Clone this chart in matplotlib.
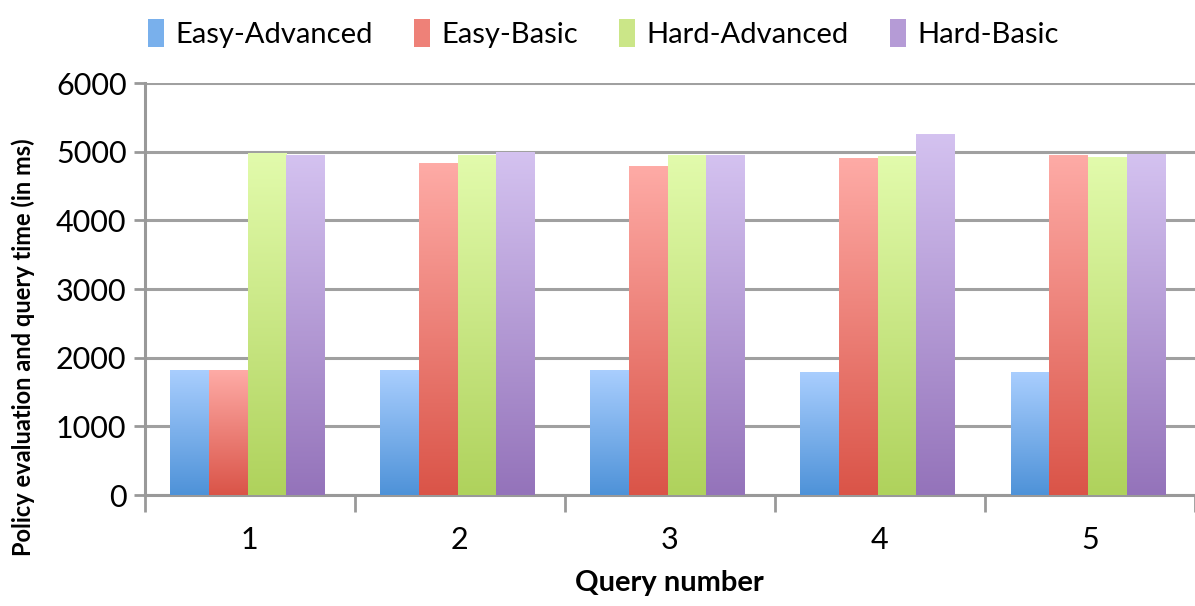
import numpy as np
import matplotlib.pyplot as plt
from matplotlib.colors import LinearSegmentedColormap
from matplotlib.patches import Patch

plt.rcParams['font.family'] = ['Lato', 'DejaVu Sans']

queries = ['1', '2', '3', '4', '5']
series = ['Easy-Advanced', 'Easy-Basic', 'Hard-Advanced', 'Hard-Basic']
easy_advanced = [1810, 1810, 1820, 1790, 1790]
easy_basic = [1810, 4820, 4780, 4900, 4950]
hard_advanced = [4970, 4950, 4950, 4930, 4920]
hard_basic = [4950, 4980, 4940, 5250, 4960]
values = [easy_advanced, easy_basic, hard_advanced, hard_basic]

# (top, bottom) colours of the gradient
grads = [('#a9cefe', '#4e92d8'),
         ('#feaba6', '#da5448'),
         ('#e2fbac', '#afd25c'),
         ('#d4c2f0', '#9473ba')]

fig, ax = plt.subplots(figsize=(11.95, 6.06), dpi=100)
fig.subplots_adjust(left=0.121, right=1.0, top=0.863, bottom=0.183)

x = np.arange(len(queries))
w = 0.184
grad = np.linspace(1, 0, 256).reshape(-1, 1)
for i, (vals, (top, bot)) in enumerate(zip(values, grads)):
    cmap = LinearSegmentedColormap.from_list(series[i], [bot, top])
    bars = ax.bar(x + (i - 1.5) * w - 0.01, vals, w, color='none', zorder=3)
    for b in bars:
        x0, y0 = b.get_x(), b.get_y()
        ax.imshow(grad, cmap=cmap, aspect='auto', zorder=3,
                  extent=(x0, x0 + b.get_width(), y0, y0 + b.get_height()))

ax.set_xlim(-0.5, len(queries) - 0.5)
ax.set_ylim(0, 6000)
ax.set_yticks(range(0, 6001, 1000))
ax.yaxis.grid(True, color='#a0a0a0', linewidth=2.2, zorder=0)

ax.set_xticks(np.arange(-0.5, len(queries), 1.0))
ax.set_xticklabels([])
ax.set_xticks(x, minor=True)
ax.set_xticklabels(queries, minor=True)
ax.tick_params(axis='x', which='major', length=12, width=2, color='#999999',
               direction='out')
ax.tick_params(axis='x', which='minor', length=0, pad=22, labelsize=22)
ax.tick_params(axis='y', length=8, width=2, color='#999999', labelsize=22, pad=5)

for s in ['top', 'right']:
    ax.spines[s].set_visible(False)
for s in ['left', 'bottom']:
    ax.spines[s].set_color('#999999')
    ax.spines[s].set_linewidth(2.2)

ax.set_xlabel('Query number', fontsize=21, fontweight='bold', labelpad=12)
ax.set_ylabel('Policy evaluation and query time (in ms)', fontsize=17,
              fontweight='bold')
ax.yaxis.set_label_coords(-0.104, 0.36)

handles = [Patch(facecolor=c, label=s)
           for s, c in zip(series, ['#79b0ec', '#ee8178', '#cbe688', '#b59bd6'])]
fig.legend(handles=handles, loc='upper center', ncol=4, frameon=False,
           bbox_to_anchor=(0.505, 1.012), fontsize=21, handlelength=0.55,
           handleheight=1.1, handletextpad=0.4, columnspacing=1.4)

fig.savefig('out.png')
